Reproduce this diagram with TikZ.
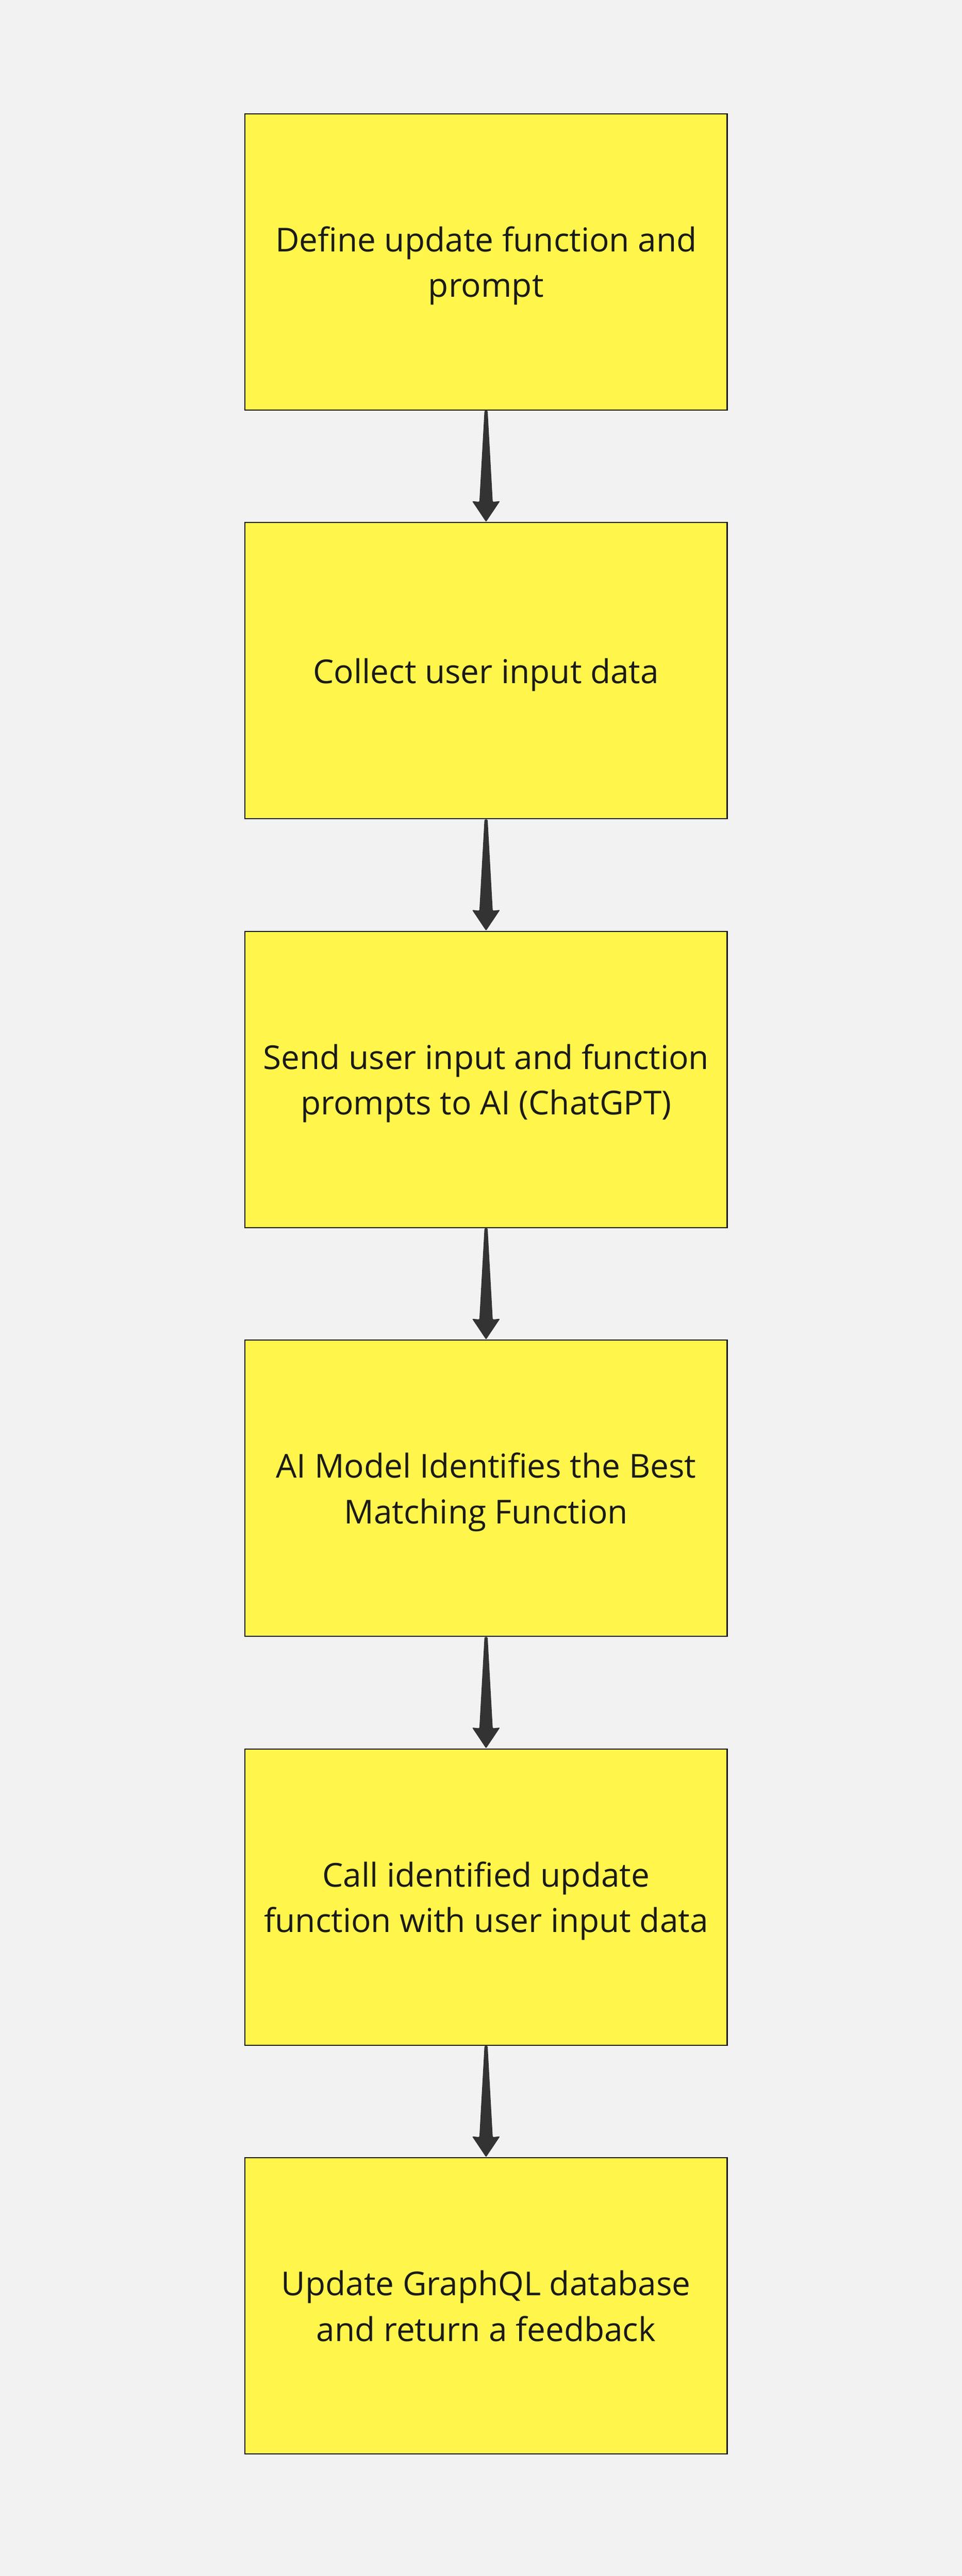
\documentclass[tikz,border=0pt]{standalone}
\usepackage{fontspec}
\setmainfont{Open Sans}
\usetikzlibrary{positioning}
\usetikzlibrary{calc}
\definecolor{hatter}{HTML}{F2F2F2}
\definecolor{sarga}{HTML}{FFF54B}
\definecolor{keret}{HTML}{1A1A1A}
\definecolor{nyilszin}{HTML}{333333}

\begin{document}
\begin{tikzpicture}[
lepes/.style={rectangle,draw=keret,line width=0.03cm,fill=sarga,text=keret,
  minimum width=12.25cm,minimum height=7.53cm,align=center,text depth=0pt,
  font=\fontsize{23.8}{33}\selectfont},
nyil/.style={fill=nyilszin,rounded corners=0.8pt},
node distance=2.83cm]

\fill[hatter] (0,0) rectangle (24.43,-65.47);
\useasboundingbox (0,0) rectangle (24.43,-65.47);

\node[lepes](define) at (12.345,-6.655){Define update function and\\prompt};
\node[lepes, below=of define](collect){Collect user input data};
\node[lepes, below=of collect](send){Send user input and function\\prompts to AI (ChatGPT)};
\node[lepes, below=of send](identify){AI Model Identifies the Best\\Matching Function};
\node[lepes, below=of identify](call){Call identified update\\function with user input data};
\node[lepes, below=of call](update){Update GraphQL database\\and return a feedback};

% tapered arrows between the steps
\foreach \a/\b in {define/collect, collect/send, send/identify, identify/call, call/update}{
\fill[nyil] ($(\a.south)+(-0.04,0)$) -- ($(\b.north)+(-0.17,0.51)$)
  -- ($(\b.north)+(-0.355,0.53)$) -- (\b.north) -- ($(\b.north)+(0.355,0.53)$)
  -- ($(\b.north)+(0.17,0.51)$) -- ($(\a.south)+(0.04,0)$) -- cycle;
}

\end{tikzpicture}
\end{document}
